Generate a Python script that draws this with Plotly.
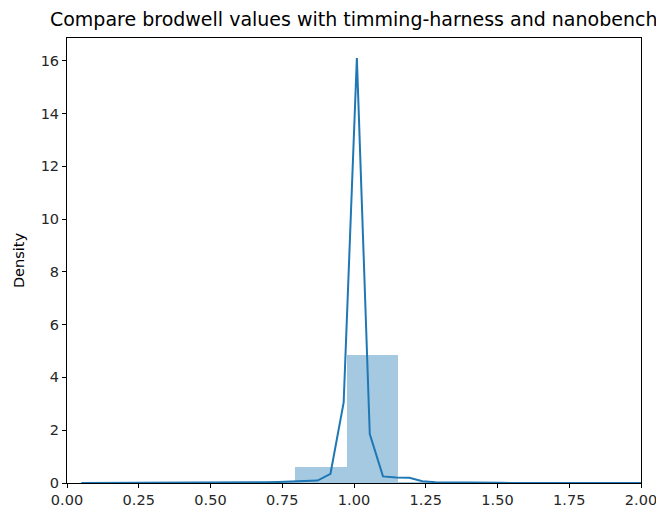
import plotly.graph_objects as go

# Histogram (density) bins
bin_edges = [0.075, 0.255, 0.435, 0.615, 0.795, 0.975, 1.155, 1.335]
bin_density = [0.01, 0.005, 0.01, 0.03, 0.6, 4.85, 0.05]

# KDE curve
kde_x = [0.05, 0.096, 0.141, 0.187, 0.233, 0.279, 0.324, 0.370, 0.416, 0.461,
         0.507, 0.553, 0.598, 0.644, 0.690, 0.736, 0.781, 0.827, 0.873, 0.918,
         0.964, 1.010, 1.055, 1.101, 1.147, 1.193, 1.238, 1.284, 1.330, 1.375,
         1.421, 1.467, 1.513, 1.558, 1.604, 1.650, 1.695, 1.741, 1.787, 1.832,
         1.878, 1.924, 1.970, 2.015, 2.061]
kde_y = [0.004, 0.004, 0.004, 0.004, 0.004, 0.004, 0.005, 0.005, 0.005, 0.006,
         0.007, 0.009, 0.012, 0.018, 0.028, 0.04, 0.06, 0.08, 0.09, 0.35,
         3.05, 16.1, 1.85, 0.25, 0.21, 0.2, 0.07, 0.03, 0.02, 0.012,
         0.008, 0.006, 0.005, 0.004, 0.004, 0.004, 0.004, 0.004, 0.004, 0.004,
         0.004, 0.004, 0.004, 0.004, 0.004]

x_ticks = [0.0, 0.25, 0.5, 0.75, 1.0, 1.25, 1.5, 1.75, 2.0]
y_ticks = [0, 2, 4, 6, 8, 10, 12, 14, 16]

title = "Compare brodwell values with timming-harness and nanobench"

widths = [b - a for a, b in zip(bin_edges[:-1], bin_edges[1:])]

fig = go.Figure()
fig.add_trace(go.Bar(
    x=bin_edges[:-1], y=bin_density, width=widths, offset=0,
    marker=dict(color="rgba(31,119,180,0.4)", line=dict(width=0)),
    showlegend=False, hoverinfo="skip",
))
fig.add_trace(go.Scatter(
    x=kde_x, y=kde_y, mode="lines",
    line=dict(color="#1f77b4", width=2),
    showlegend=False,
))

axis_common = dict(
    showline=True, linecolor="black", linewidth=1, mirror=True,
    ticks="outside", ticklen=4, tickcolor="black", tickwidth=1,
    showgrid=False, zeroline=False, automargin=False,
    tickfont=dict(family="DejaVu Sans", size=14.5, color="#262626"),
)

# page body has an 8px default margin, so the figure is sized to fit within it
fig.update_layout(
    width=656, height=509,
    margin=dict(l=59, r=23, t=30, b=34),
    plot_bgcolor="white", paper_bgcolor="white",
    bargap=0,
    title=dict(text=title, x=0.527, xanchor="center", y=0.977, yanchor="middle",
               font=dict(family="DejaVu Sans", size=19, color="black")),
    font=dict(family="DejaVu Sans", color="black"),
    xaxis=dict(range=[0, 2], tickvals=x_ticks, tickformat=".2f", **axis_common),
    yaxis=dict(range=[0, 16.86], tickvals=y_ticks,
               title=dict(text="Density", font=dict(family="DejaVu Sans", size=14.5), standoff=12),
               **axis_common),
)

fig.write_html("out.html")
